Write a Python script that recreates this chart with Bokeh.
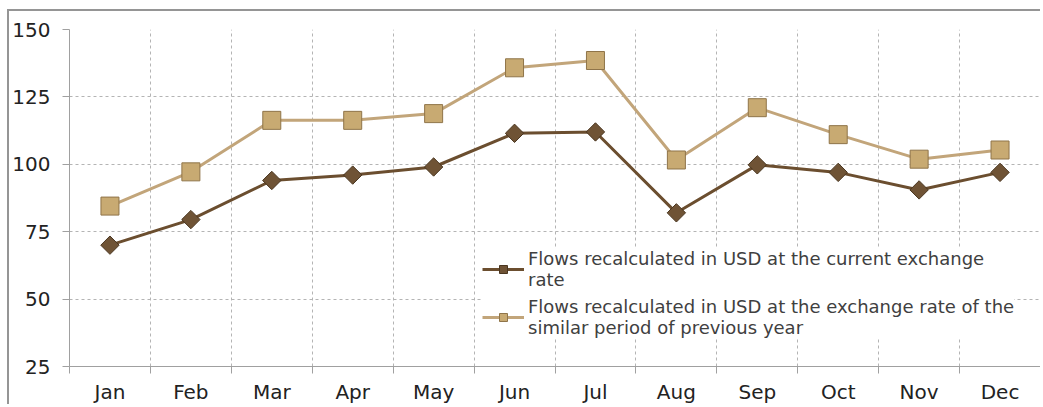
import math
from bokeh.plotting import figure
from bokeh.models import Range1d, FixedTicker, Legend, LegendItem
from bokeh.embed import file_html
from bokeh.resources import INLINE

months = ["Jan", "Feb", "Mar", "Apr", "May", "Jun", "Jul", "Aug", "Sep", "Oct", "Nov", "Dec"]
current_rate = [70, 79.5, 94, 96, 99, 111.5, 112, 82, 99.8, 97, 90.5, 97]
previous_rate = [84.5, 97.2, 116.3, 116.3, 118.8, 135.8, 138.5, 101.6, 121, 111, 101.9, 105.3]
y_ticks = [25, 50, 75, 100, 125, 150]

label_current = "Flows recalculated in USD at the current exchange\nrate"
label_previous = "Flows recalculated in USD at the exchange rate of the\nsimilar period of previous year"

FONT = "DejaVu Sans"
x = [i + 0.5 for i in range(len(months))]

p = figure(width=1033, height=395, output_backend="svg", toolbar_location=None,
           x_range=Range1d(0, len(months)), y_range=Range1d(25, 150),
           min_border_left=60, min_border_right=2, min_border_top=18, min_border_bottom=39)
p.styles = {"border-left": "2px solid #959595", "border-top": "2px solid #959595",
            "margin-left": "7px", "margin-top": "9px"}
p.outline_line_color = None
p.background_fill_color = "white"

# axes
p.yaxis.ticker = FixedTicker(ticks=y_ticks)
p.yaxis.major_tick_out = 7
p.yaxis.major_tick_in = 0
p.yaxis.minor_tick_line_color = None
p.yaxis.axis_line_color = "#a0a0a0"
p.yaxis.major_tick_line_color = "#a0a0a0"
p.yaxis.major_label_standoff = 12
p.yaxis.major_label_text_font = FONT
p.yaxis.major_label_text_font_size = "20px"
p.yaxis.major_label_text_color = "#222222"

p.xaxis.ticker = FixedTicker(ticks=x, minor_ticks=list(range(len(months) + 1)))
p.xaxis.major_label_overrides = {xi: m for xi, m in zip(x, months)}
p.xaxis.major_tick_line_color = None
p.xaxis.major_tick_out = 0
p.xaxis.major_tick_in = 0
p.xaxis.minor_tick_line_color = "#a0a0a0"
p.xaxis.minor_tick_out = 7
p.xaxis.minor_tick_in = 0
p.xaxis.axis_line_color = "#a0a0a0"
p.xaxis.major_label_standoff = 6
p.xaxis.major_label_text_font = FONT
p.xaxis.major_label_text_font_size = "20px"
p.xaxis.major_label_text_line_height = 0.8
p.xaxis.major_label_text_color = "#222222"

# grid
p.xgrid.ticker = FixedTicker(ticks=list(range(len(months) + 1)))
p.xgrid.grid_line_color = "#b4b4b4"
p.xgrid.grid_line_dash = "3 3"
p.ygrid.grid_line_color = "#b4b4b4"
p.ygrid.grid_line_dash = "3 3"

# series
l2 = p.line(x, previous_rate, line_color="#c2a57a", line_width=3)
m2 = p.scatter(x, previous_rate, marker="square", size=18, fill_color="#c8aa72",
               line_color="#8f7449", line_width=1)
l1 = p.line(x, current_rate, line_color="#6b4e2f", line_width=3)
m1 = p.scatter(x, current_rate, marker="square", angle=math.pi / 4, size=13,
               fill_color="#6f5335", line_color="#4a3620", line_width=1)

legend = Legend(items=[LegendItem(label=label_current, renderers=[l1, m1]),
                       LegendItem(label=label_previous, renderers=[l2, m2])],
                location=(413, 28))
legend.border_line_color = None
legend.background_fill_color = "white"
legend.background_fill_alpha = 1
legend.label_text_font = FONT
legend.label_text_font_size = "18px"
legend.label_text_color = "#404040"
legend.glyph_width = 42
legend.label_standoff = 4
legend.spacing = 6
legend.padding = 6
legend.margin = 0
p.add_layout(legend)

open("out.html", "w").write(file_html(p, INLINE))
